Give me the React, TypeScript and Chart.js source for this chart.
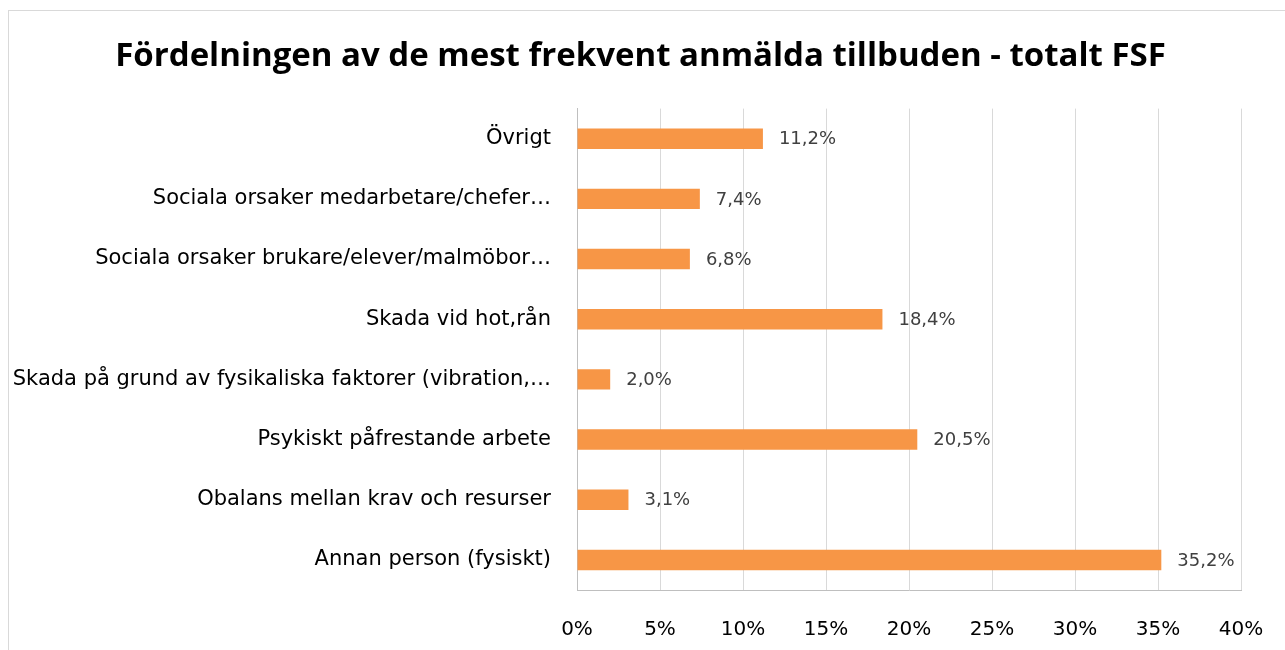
import React, { useEffect, useRef } from "react";
import { Chart, registerables } from "chart.js";

Chart.register(...registerables);

const TITLE = "Fördelningen av de mest frekvent anmälda tillbuden - totalt FSF";

const categories: string[] = [
  "Övrigt",
  "Sociala orsaker medarbetare/chefer…",
  "Sociala orsaker brukare/elever/malmöbor…",
  "Skada vid hot,rån",
  "Skada på grund av fysikaliska faktorer (vibration,…",
  "Psykiskt påfrestande arbete",
  "Obalans mellan krav och resurser",
  "Annan person (fysiskt)",
];

const values: number[] = [11.2, 7.4, 6.8, 18.4, 2.0, 20.5, 3.1, 35.2];

const xTickValues: number[] = [0, 5, 10, 15, 20, 25, 30, 35, 40];

const BAR_COLOR = "#F79646";
const LABEL_FONT = "DejaVu Sans";

const dataLabelPlugin = {
  id: "dataLabels",
  afterDatasetsDraw(chart: any) {
    const ctx = chart.ctx;
    const meta = chart.getDatasetMeta(0);
    ctx.save();
    ctx.font = `18px "${LABEL_FONT}"`;
    ctx.fillStyle = "#404040";
    ctx.textAlign = "left";
    ctx.textBaseline = "middle";
    meta.data.forEach((bar: any, i: number) => {
      const v = values[i];
      const txt = v.toFixed(1).replace(".", ",") + "%";
      ctx.fillText(txt, bar.x + 16, bar.y + 1);
    });
    ctx.restore();
  },
};

export default function App() {
  const canvasRef = useRef<HTMLCanvasElement | null>(null);

  useEffect(() => {
    if (!canvasRef.current) return;
    const chart = new Chart(canvasRef.current, {
      type: "bar",
      data: {
        labels: categories,
        datasets: [
          {
            data: values,
            backgroundColor: BAR_COLOR,
            borderWidth: 0,
            categoryPercentage: 1,
            barPercentage: 0.34,
          },
        ],
      },
      options: {
        indexAxis: "y",
        responsive: false,
        animation: false,
        devicePixelRatio: 1,
        layout: { padding: 0 },
        plugins: {
          legend: { display: false },
          tooltip: { enabled: false },
          title: {
            display: true,
            text: TITLE,
            color: "#000000",
            font: { family: "Open Sans", size: 33, weight: "bold", lineHeight: 1.2 },
            padding: { top: 26, bottom: 32 },
          },
        },
        scales: {
          x: {
            type: "linear",
            min: 0,
            max: 40,
            afterBuildTicks(scale: any) {
              scale.ticks = xTickValues.map((v) => ({ value: v }));
            },
            afterFit(scale: any) {
              scale.height = 60;
              scale.paddingLeft = 0;
              scale.paddingRight = 31;
            },
            ticks: {
              padding: 28,
              color: "#000000",
              font: { family: LABEL_FONT, size: 20 },
              callback: (v: any) => `${v}%`,
            },
            grid: { color: "#d9d9d9", lineWidth: 1, drawTicks: false },
            border: { display: true, color: "#bfbfbf", width: 1 },
          },
          y: {
            afterFit(scale: any) {
              scale.width = 568;
            },
            ticks: {
              padding: 26,
              color: "#000000",
              font: { family: LABEL_FONT, size: 21 },
              autoSkip: false,
            },
            grid: { display: false, drawTicks: false },
            border: { display: true, color: "#bfbfbf", width: 1 },
          },
        },
      },
      plugins: [dataLabelPlugin],
    });
    return () => chart.destroy();
  }, []);

  return (
    <div
      style={{
        position: "fixed",
        left: 0,
        top: 0,
        width: 1285,
        height: 650,
        overflow: "hidden",
        background: "#ffffff",
      }}
    >
      <div
        style={{
          position: "absolute",
          left: 8,
          top: 10,
          width: 1300,
          height: 700,
          border: "1px solid #d9d9d9",
          background: "#ffffff",
        }}
      />
      <canvas
        ref={canvasRef}
        width={1263}
        height={639}
        style={{ position: "absolute", left: 9, top: 11, width: 1263, height: 639 }}
      />
    </div>
  );
}
